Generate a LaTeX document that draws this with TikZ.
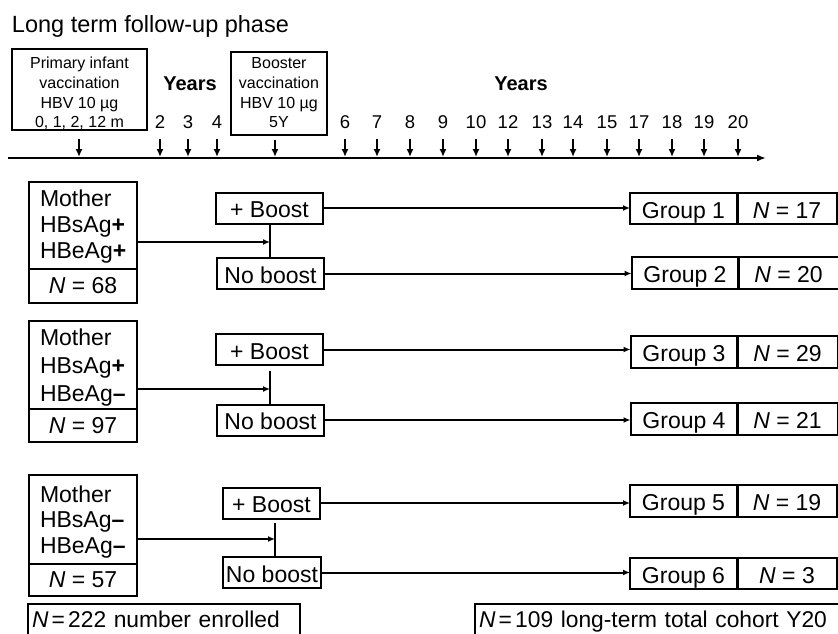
\documentclass[tikz,border=0pt]{standalone}
\usepackage{fontspec}
\setmainfont{Liberation Sans}
\usetikzlibrary{arrows.meta}
\newcommand{\eqsp}{\hspace{0.14em}=\hspace{0.14em}}
\begin{document}
\begin{tikzpicture}[x=1pt,y=-1pt,
  every node/.style={inner sep=0pt,outer sep=0pt},
  conn/.style={line width=2pt},
  arr/.style={line width=2pt,-{Latex[length=7pt,width=6pt]}},
  tickarr/.style={line width=2pt,-{Latex[length=8pt,width=7pt]}},
  vacbox/.style={draw,line width=2.5pt},
  vactxt/.style={align=center,anchor=north,font=\fontsize{16}{19.8}\selectfont},
  yearnum/.style={anchor=base,font=\fontsize{18.5}{21}\selectfont},
  yearlbl/.style={anchor=base,font=\fontsize{20}{24}\bfseries\selectfont},
  motherbox/.style={draw,line width=2.5pt,minimum width=108pt},
  mothertxt/.style={align=left,anchor=north west},
  boostbox/.style={draw,line width=2pt,minimum height=31pt,text height=19pt,text depth=0pt,font=\fontsize{23}{27}\selectfont},
  groupbox/.style={draw,line width=2pt,minimum width=107pt,minimum height=31.5pt,text height=19pt,text depth=0pt,font=\fontsize{23}{27}\selectfont},
  countbox/.style={draw,line width=2pt,minimum width=100pt,minimum height=31.5pt,text height=19pt,text depth=0pt,font=\fontsize{23}{27}\selectfont},
  totbox/.style={draw,line width=2pt,minimum height=36pt,text height=23pt,text depth=13pt,align=left,font=\fontsize{22.8}{28}\selectfont},
  divider/.style={line width=3pt}
]
\useasboundingbox (0,0) rectangle (838,634);

% title
\node[anchor=base west,font=\fontsize{23.5}{28}\selectfont] (title) at (12,33) {Long term follow-up phase};

% vaccination boxes
\node[vacbox,minimum width=135pt,minimum height=81pt] (prim) at (79.5,89.5) {};
\node[vactxt] (primtxt) at (79.5,57) {Primary infant\\vaccination\\HBV 10 µg\\0, 1, 2, 12 m};
\node[vacbox,minimum width=96pt,minimum height=83pt] (boost) at (279,93.5) {};
\node[vactxt] (boosttxt) at (279,57.5) {Booster\\vaccination\\HBV 10 µg\\5Y};

\node[yearlbl] (years1) at (190,91) {Years};
\node[yearlbl] (years2) at (521,91) {Years};

% timeline
\coordinate (tl0) at (8,158);
\coordinate (tl1) at (766,158);
\draw[line width=2.5pt,-{Latex[length=9pt,width=7pt]}] (tl0) -- (tl1);

\coordinate (ptt) at (79,139);
\coordinate (ptb) at (79,157);
\draw[tickarr] (ptt) -- (ptb);
\coordinate (btt) at (275,140);
\coordinate (btb) at (275,157);
\draw[tickarr] (btt) -- (btb);

\foreach \x/\lab [count=\i] in {160/2,188/3,217/4,345/6,377/7,410/8,443/9,476/10,508/12,542/13,573/14,607/15,639/17,672/18,704/19,738/20}{
  \node[yearnum] (yl\i) at (\x,128) {\lab};
  \coordinate (tt\i) at (\x,139);
  \coordinate (tb\i) at (\x,157);
  \draw[tickarr] (tt\i) -- (tb\i);
}

% ---------- row 1
\node[motherbox,minimum height=87pt] (m1) at (83,225.5) {};
\node[mothertxt,font=\fontsize{23}{26}\selectfont] (mt1) at (40,189.5) {Mother\\HBsAg\textbf{+}\\HBeAg\textbf{+}};
\node[motherbox,minimum height=34pt,font=\fontsize{23}{27}\selectfont] (n1) at (83,286) {\textit{N} = 68};
\node[boostbox,minimum width=107pt] (b1) at (269.5,208) {+ Boost};
\node[boostbox,minimum width=107pt] (nb1) at (270.5,273.5) {No boost};
\coordinate (j1) at (270,242);
\draw[conn] (b1.south -| j1) -- (nb1.north -| j1);
\draw[arr] (m1.east |- j1) -- (j1);
\node[groupbox] (g1) at (683.5,208.5) {Group 1};
\node[countbox] (c1) at (787,208.5) {\textit{N} = 17};
\node[groupbox] (g2) at (685,273) {Group 2};
\node[countbox] (c2) at (788.5,273) {\textit{N} = 20};
\draw[arr] (b1.east) -- (b1.east -| g1.west);
\draw[arr] (nb1.east) -- (nb1.east -| g2.west);

% ---------- row 2
\node[motherbox,minimum height=88pt] (m2) at (83,365) {};
\node[mothertxt,font=\fontsize{23}{28}\selectfont] (mt2) at (40,328.5) {Mother\\HBsAg\textbf{+}\\HBeAg\textbf{–}};
\node[motherbox,minimum height=33pt,font=\fontsize{23}{27}\selectfont] (n2) at (83,425.5) {\textit{N} = 97};
\node[boostbox,minimum width=107pt] (b2) at (269.5,349.5) {+ Boost};
\node[boostbox,minimum width=107pt] (nb2) at (270.5,420) {No boost};
\coordinate (j2) at (270,389);
\coordinate (v2) at (270,371);
\draw[conn] (v2) -- (nb2.north -| v2);
\draw[arr] (m2.east |- j2) -- (j2);
\node[groupbox] (g3) at (684,352) {Group 3};
\node[countbox] (c3) at (787.5,352) {\textit{N} = 29};
\node[groupbox] (g4) at (684,419) {Group 4};
\node[countbox] (c4) at (787.5,419) {\textit{N} = 21};
\draw[arr] (b2.east) -- (b2.east -| g3.west);
\draw[arr] (nb2.east) -- (nb2.east -| g4.west);

% ---------- row 3
\node[motherbox,minimum height=89pt] (m3) at (83,519.5) {};
\node[mothertxt,font=\fontsize{23}{25.5}\selectfont] (mt3) at (40,485.5) {Mother\\HBsAg\textbf{–}\\HBeAg\textbf{–}};
\node[motherbox,minimum height=32pt,font=\fontsize{23}{27}\selectfont] (n3) at (83,580) {\textit{N} = 57};
\node[boostbox,minimum width=97pt] (b3) at (271.5,503) {+ Boost};
\node[boostbox,minimum width=98pt] (nb3) at (272,572.5) {No boost};
\coordinate (j3) at (275,539);
\coordinate (v3) at (275,523);
\draw[conn] (v3) -- (nb3.north -| v3);
\draw[arr] (m3.east |- j3) -- (j3);
\node[groupbox] (g5) at (683.5,501) {Group 5};
\node[countbox] (c5) at (787,501) {\textit{N} = 19};
\node[groupbox] (g6) at (683.5,573.5) {Group 6};
\node[countbox] (c6) at (787,573.5) {\textit{N} = 3};
\draw[arr] (b3.east) -- (b3.east -| g5.west);
\draw[arr] (nb3.east) -- (nb3.east -| g6.west);

% dividers between group and count
\foreach \g in {g1,g2,g3,g4,g5,g6}{
  \draw[divider] (\g.north east) -- (\g.south east);
}

% totals
\node[totbox,minimum width=272pt,text width=264pt] (tot1) at (164,622) {\textit{N}\eqsp222 number enrolled};
\node[totbox,minimum width=375pt,text width=367pt] (tot2) at (662.5,622) {\textit{N}\eqsp109 long-term total cohort Y20};
\end{tikzpicture}
\end{document}
